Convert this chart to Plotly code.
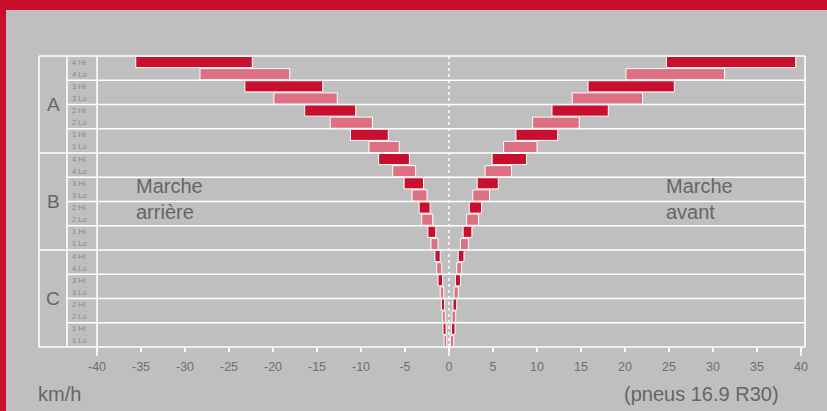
import plotly.graph_objects as go

# ---------------- data ----------------
groups = ["A", "B", "C"]
gears = ["4 Hi", "4 Lo", "3 Hi", "3 Lo", "2 Hi", "2 Lo", "1 Hi", "1 Lo"]

# reverse speed ranges (km/h, negative = marche arrière), order A..C, 4 Hi..1 Lo
rev_from_A = [-35.6, -28.3, -23.2, -19.9, -16.4, -13.5, -11.2, -9.1]
rev_to_A = [-22.35, -18.1, -14.35, -12.7, -10.6, -8.7, -6.9, -5.65]
rev_from_B = [-8.0, -6.4, -5.1, -4.2, -3.4, -3.1, -2.4, -2.05]
rev_to_B = [-4.5, -3.8, -2.9, -2.5, -2.15, -1.85, -1.5, -1.25]
rev_from_C = [-1.6, -1.4, -1.25, -1.0, -0.87, -0.76, -0.68, -0.57]
rev_to_C = [-1.0, -0.83, -0.72, -0.6, -0.5, -0.42, -0.34, -0.26]

# forward speed ranges (km/h, marche avant)
fwd_from_A = [24.7, 20.1, 15.8, 14.0, 11.7, 9.5, 7.6, 6.2]
fwd_to_A = [39.4, 31.3, 25.6, 22.0, 18.1, 14.8, 12.35, 10.0]
fwd_from_B = [4.9, 4.1, 3.2, 2.7, 2.3, 2.0, 1.6, 1.3]
fwd_to_B = [8.8, 7.1, 5.6, 4.6, 3.7, 3.35, 2.6, 2.2]
fwd_from_C = [1.05, 0.87, 0.72, 0.57, 0.45, 0.34, 0.27, 0.15]
fwd_to_C = [1.7, 1.44, 1.3, 1.05, 0.87, 0.76, 0.68, 0.53]

x_tickvals = [-40, -35, -30, -25, -20, -15, -10, -5, 0, 5, 10, 15, 20, 25, 30, 35, 40]
x_ticktext = ["-40", "-35", "-30", "-25", "-20", "-15", "-10", "-5", "0",
              "5", "10", "15", "20", "25", "30", "35", "40"]

# ---------------- styling ----------------
W, H = 827, 411
ML, MR, MT, MB = 97, 22, 56, 64
PW, PH = W - ML - MR, H - MT - MB
BG = "#bfbfbf"
RED = "#c8102e"
PINK = "#de7083"
TXT = "#666666"
FONT = "Liberation Sans"


def px_x(px):
    return (px - ML) / PW


def px_y(py):
    return (H - MB - py) / PH


rev_from = rev_from_A + rev_from_B + rev_from_C
rev_to = rev_to_A + rev_to_B + rev_to_C
fwd_from = fwd_from_A + fwd_from_B + fwd_from_C
fwd_to = fwd_to_A + fwd_to_B + fwd_to_C

n_rows = len(groups) * len(gears)
ypos = [n_rows - i - 0.5 for i in range(n_rows)]
labels = [g + " " + s for g in groups for s in gears]
is_hi = ["Hi" in s for g in groups for s in gears]

fig = go.Figure()
for hi, color in [(True, RED), (False, PINK)]:
    idx = [i for i in range(n_rows) if is_hi[i] == hi]
    for starts, ends in [(rev_from, rev_to), (fwd_from, fwd_to)]:
        fig.add_trace(go.Bar(
            orientation="h",
            y=[ypos[i] for i in idx],
            base=[starts[i] for i in idx],
            x=[ends[i] - starts[i] for i in idx],
            width=0.92,
            marker=dict(color=color, line=dict(color="white", width=1)),
            hovertext=[labels[i] for i in idx],
            hoverinfo="text+x",
            textposition="none",
            showlegend=False,
        ))

shapes = []
LW = 1.6
# red frame band (top + left)
shapes.append(dict(type="rect", xref="paper", yref="paper",
                   x0=px_x(-5), x1=px_x(W + 5), y0=px_y(10), y1=px_y(-5),
                   fillcolor=RED, line=dict(width=0), layer="below"))
shapes.append(dict(type="rect", xref="paper", yref="paper",
                   x0=px_x(-5), x1=px_x(6), y0=px_y(H + 5), y1=px_y(-5),
                   fillcolor=RED, line=dict(width=0), layer="below"))
# horizontal separators
for k in range(0, n_rows + 1, 2):
    yp = k / n_rows
    x0 = px_x(39) if k % 8 == 0 else px_x(67)
    shapes.append(dict(type="line", xref="paper", yref="paper",
                       x0=x0, x1=1, y0=yp, y1=yp,
                       line=dict(color="white", width=LW), layer="below"))
# vertical frame lines
for xp, yb in [(px_x(39), 0), (px_x(67), 0), (0, px_y(356)), (1, 0)]:
    shapes.append(dict(type="line", xref="paper", yref="paper",
                       x0=xp, x1=xp, y0=yb, y1=1,
                       line=dict(color="white", width=LW), layer="below"))
# long ticks at 0 and 40
for xv in [0, 40]:
    shapes.append(dict(type="line", xref="x", yref="paper",
                       x0=xv, x1=xv, y0=px_y(356), y1=0,
                       line=dict(color="white", width=LW), layer="below"))
# dotted zero line
shapes.append(dict(type="line", xref="x", yref="paper", x0=0, x1=0, y0=0, y1=1,
                   line=dict(color="white", width=1.5, dash="dot"), layer="below"))

annotations = []
for gi, g in enumerate(groups):
    annotations.append(dict(text=g, xref="paper", yref="y", x=px_x(53),
                            y=n_rows - gi * 8 - 4, showarrow=False,
                            xanchor="center", yanchor="middle",
                            font=dict(size=19, color=TXT, family=FONT)))
for i in range(n_rows):
    annotations.append(dict(text=labels[i].split(" ", 1)[1], xref="paper", yref="y",
                            x=px_x(70), y=ypos[i], showarrow=False,
                            xanchor="left", yanchor="middle",
                            font=dict(size=7.5, color="#888888", family=FONT)))
annotations.append(dict(text="Marche<br>arrière", xref="paper", yref="paper",
                        x=px_x(134), y=px_y(199), showarrow=False,
                        xanchor="left", yanchor="middle", align="left",
                        font=dict(size=20, color=TXT, family=FONT)))
annotations.append(dict(text="Marche<br>avant", xref="paper", yref="paper",
                        x=px_x(664), y=px_y(199), showarrow=False,
                        xanchor="left", yanchor="middle", align="left",
                        font=dict(size=20, color=TXT, family=FONT)))
annotations.append(dict(text="km/h", xref="paper", yref="paper",
                        x=px_x(36), y=px_y(394), showarrow=False,
                        xanchor="left", yanchor="middle",
                        font=dict(size=20, color=TXT, family=FONT)))
annotations.append(dict(text="(pneus 16.9 R30)", xref="paper", yref="paper",
                        x=px_x(781), y=px_y(394), showarrow=False,
                        xanchor="right", yanchor="middle",
                        font=dict(size=20, color=TXT, family=FONT)))

fig.update_layout(
    width=W, height=H,
    margin=dict(l=ML, r=MR, t=MT, b=MB, pad=0),
    paper_bgcolor=BG, plot_bgcolor=BG,
    barmode="overlay",
    font=dict(family=FONT, color=TXT),
    shapes=shapes, annotations=annotations,
    xaxis=dict(range=[-40, 40.45], tickvals=x_tickvals, ticktext=x_ticktext,
               ticks="outside", ticklen=4, tickwidth=LW, tickcolor="white",
               ticklabelstandoff=4,
               tickfont=dict(size=12.5, color="#707070", family=FONT),
               showgrid=False, zeroline=False, showline=False, fixedrange=True),
    yaxis=dict(range=[0, n_rows], showticklabels=False, ticks="",
               showgrid=False, zeroline=False, showline=False, fixedrange=True),
)

fig.write_html("out.html", config={"displayModeBar": False},
               post_script="document.body.style.margin='0';document.body.style.overflow='hidden';")
